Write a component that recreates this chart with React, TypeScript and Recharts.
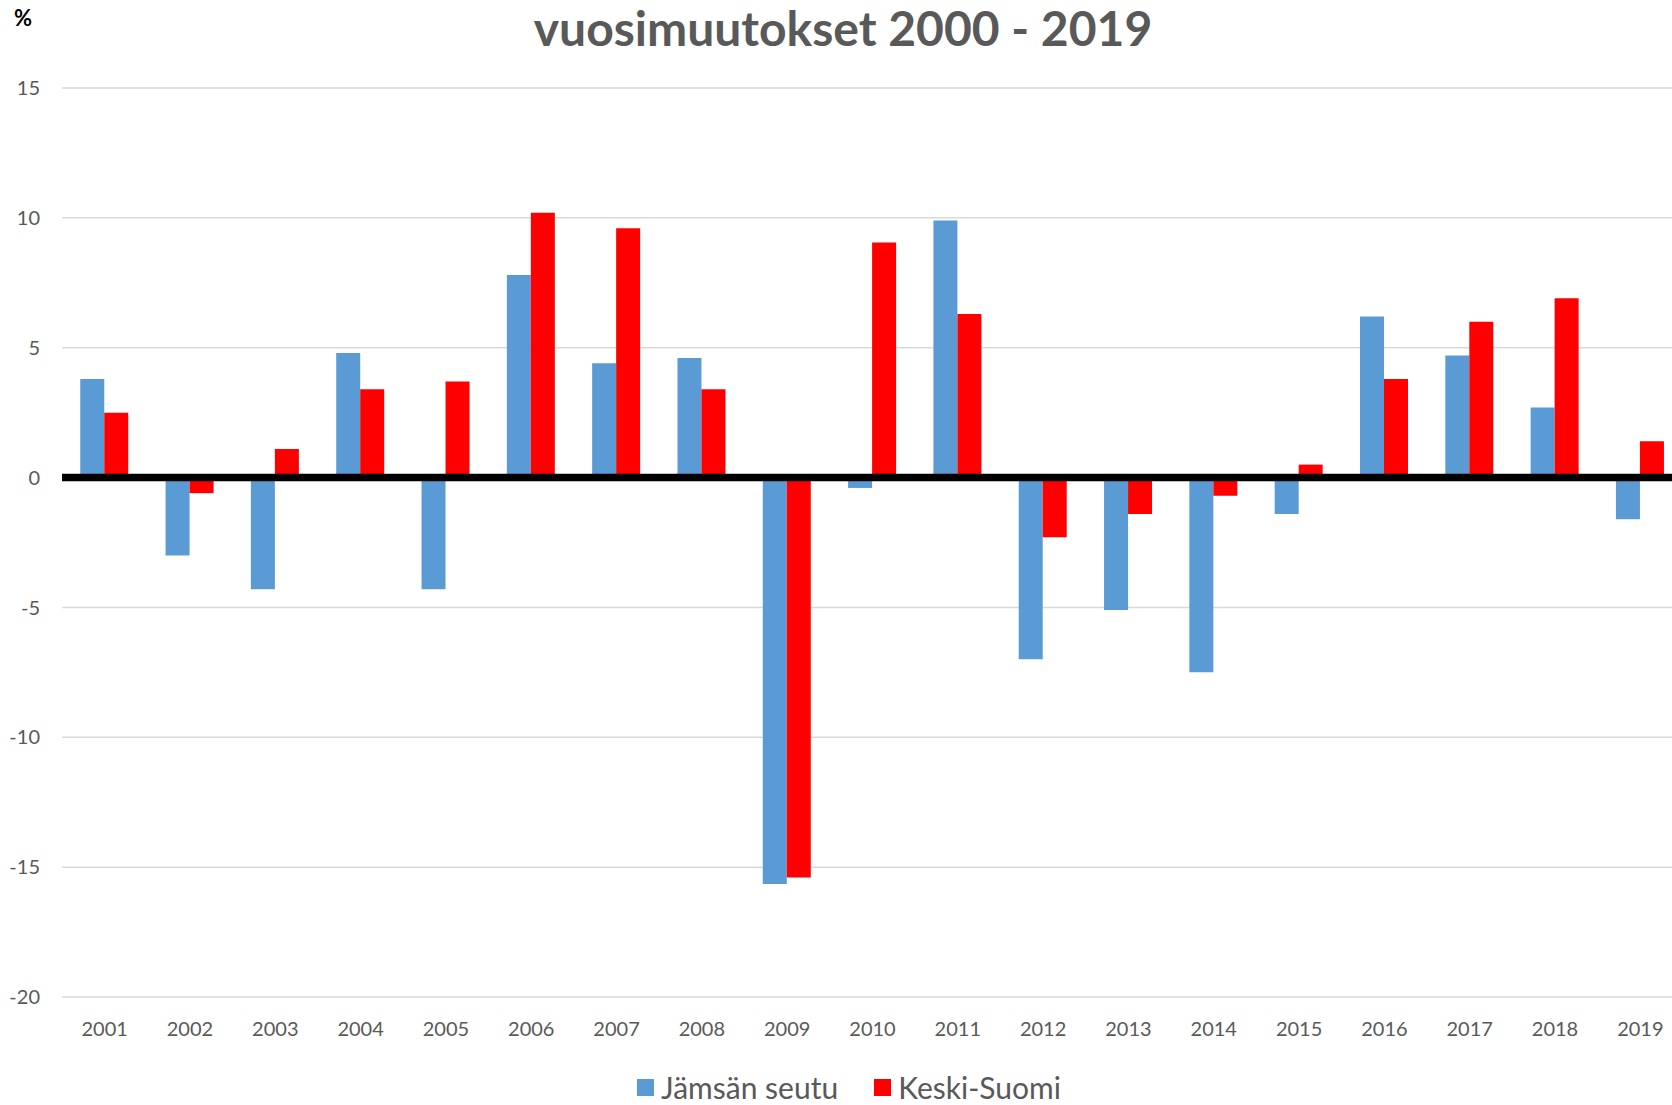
import { BarChart, Bar, XAxis, YAxis, CartesianGrid, Legend, ReferenceLine } from "recharts";

const years = [
  "2001", "2002", "2003", "2004", "2005", "2006", "2007", "2008", "2009", "2010",
  "2011", "2012", "2013", "2014", "2015", "2016", "2017", "2018", "2019",
];
const jamsa = [3.8, -3.0, -4.3, 4.8, -4.3, 7.8, 4.4, 4.6, -15.65, -0.4, 9.9, -7.0, -5.1, -7.5, -1.4, 6.2, 4.7, 2.7, -1.6];
const keskiSuomi = [2.5, -0.6, 1.1, 3.4, 3.7, 10.2, 9.6, 3.4, -15.4, 9.05, 6.3, -2.3, -1.4, -0.7, 0.5, 3.8, 6.0, 6.9, 1.4];
const yTicks = [-20, -15, -10, -5, 0, 5, 10, 15];

const data = years.map((year, i) => ({ year, jamsa: jamsa[i], keski: keskiSuomi[i] }));

const FONT = "Lato, 'Open Sans', sans-serif";
const TEXT = "#595959";

function LegendContent({ payload }: { payload?: { value: string; color: string }[] }) {
  if (!payload) return null;
  return (
    <div style={{ display: "flex", justifyContent: "center", alignItems: "center", gap: 36, height: 36, paddingLeft: 15 }}>
      {payload.map((entry) => (
        <div key={entry.value} style={{ display: "flex", alignItems: "center", gap: 7 }}>
          <span style={{ width: 17, height: 17, background: entry.color, display: "inline-block" }} />
          <span style={{ fontSize: 30, color: TEXT, fontFamily: FONT }}>{entry.value}</span>
        </div>
      ))}
    </div>
  );
}

export default function App() {
  return (
    <div
      style={{
        position: "absolute",
        left: 0,
        top: 0,
        width: 1672,
        height: 1105,
        overflow: "hidden",
        background: "#fff",
        fontFamily: FONT,
      }}
    >
      <div style={{ position: "absolute", left: 14, top: 4, fontSize: 22, fontWeight: 700, color: "#000" }}>%</div>
      <div
        style={{
          position: "absolute",
          left: 0,
          width: 1686,
          top: 2,
          textAlign: "center",
          fontSize: 48,
          fontWeight: 700,
          color: TEXT,
          lineHeight: "52px",
        }}
      >
        vuosimuutokset 2000 - 2019
      </div>
      <BarChart
        width={1690}
        height={1105}
        data={data}
        margin={{ top: 88, right: 7, left: 0, bottom: 22 }}
        barCategoryGap="21.4%"
        barGap={0}
      >
        <CartesianGrid vertical={false} stroke="#d9d9d9" strokeWidth={1.5} />
        <XAxis
          dataKey="year"
          height={50}
          axisLine={false}
          tickLine={false}
          tickSize={0}
          tickMargin={25}
          tick={{ fontSize: 20, fill: TEXT, fontFamily: FONT }}
          interval={0}
        />
        <YAxis
          width={62}
          domain={[-20, 15]}
          ticks={yTicks}
          axisLine={false}
          tickLine={false}
          tickSize={0}
          tickMargin={22}
          tick={{ fontSize: 20, fill: TEXT, fontFamily: FONT }}
        />
        <Legend content={<LegendContent />} wrapperStyle={{ bottom: 0 }} />
        <Bar dataKey="jamsa" name="Jämsän seutu" fill="#5B9BD5" isAnimationActive={false} />
        <Bar dataKey="keski" name="Keski-Suomi" fill="#FF0000" isAnimationActive={false} />
        <ReferenceLine y={0} stroke="#000" strokeWidth={7.5} />
      </BarChart>
    </div>
  );
}
